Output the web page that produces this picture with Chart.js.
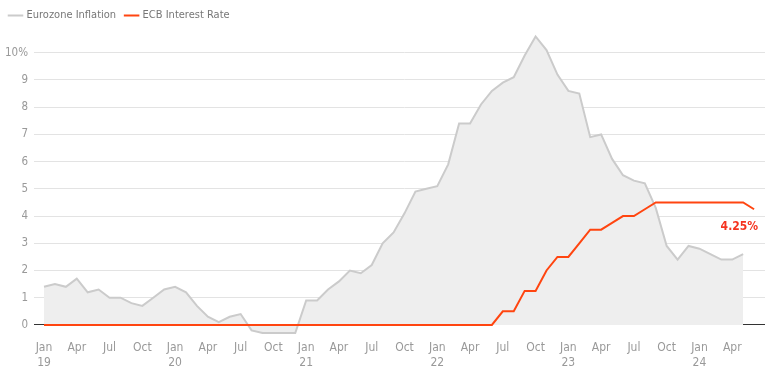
<!DOCTYPE html>
<html>
<head>
<meta charset="utf-8">
<script src="https://cdn.jsdelivr.net/npm/chart.js@4"></script>
<style>
  html, body { margin: 0; padding: 0; background: #fff; }
  #wrap { width: 780px; height: 378px; }
</style>
</head>
<body>
<div id="wrap"><canvas id="chart"></canvas></div>
<script>
const years = ['19', '20', '21', '22', '23', '24']
const monthNames = ['Jan', 'Feb', 'Mar', 'Apr', 'May', 'Jun', 'Jul', 'Aug', 'Sep', 'Oct', 'Nov', 'Dec']

// Jan 2019 .. May 2024, annual HICP %
const inflation = [
    1.4, 1.5, 1.4, 1.7, 1.2, 1.3, 1.0, 1.0, 0.8, 0.7, 1.0, 1.3,
    1.4, 1.2, 0.7, 0.3, 0.1, 0.3, 0.4, -0.2, -0.3, -0.3, -0.3, -0.3,
    0.9, 0.9, 1.3, 1.6, 2.0, 1.9, 2.2, 3.0, 3.4, 4.1, 4.9, 5.0,
    5.1, 5.9, 7.4, 7.4, 8.1, 8.6, 8.9, 9.1, 9.9, 10.6, 10.1, 9.2,
    8.6, 8.5, 6.9, 7.0, 6.1, 5.5, 5.3, 5.2, 4.3, 2.9, 2.4, 2.9,
    2.8, 2.6, 2.4, 2.4, 2.6,
]

// Jan 2019 .. Jun 2024, ECB main refinancing rate %
const ecbRate = [
    0, 0, 0, 0, 0, 0, 0, 0, 0, 0, 0, 0,
    0, 0, 0, 0, 0, 0, 0, 0, 0, 0, 0, 0,
    0, 0, 0, 0, 0, 0, 0, 0, 0, 0, 0, 0,
    0, 0, 0, 0, 0, 0, 0.5, 0.5, 1.25, 1.25, 2.0, 2.5,
    2.5, 3.0, 3.5, 3.5, 3.75, 4.0, 4.0, 4.25, 4.5, 4.5, 4.5, 4.5,
    4.5, 4.5, 4.5, 4.5, 4.5, 4.25,
]

const yTicks = [0, 1, 2, 3, 4, 5, 6, 7, 8, 9, 10]
const lastRateLabel = '4.25%'

// one spare month on the right so the grid runs past the last point
const labels = []
years.forEach(y => monthNames.forEach(m => labels.push(m + ' ' + y)))
labels.splice(67)

const fontFamily = "'Liberation Sans Narrow', 'DejaVu Sans Condensed', Roboto, sans-serif"

const endLabel = {
    id: 'endLabel',
    afterDatasetsDraw(chart) {
        const {ctx, scales} = chart
        const i = ecbRate.length - 1
        const x = scales.x.getPixelForValue(i)
        const y = scales.y.getPixelForValue(ecbRate[i])
        ctx.save()
        ctx.font = 'bold 12px ' + fontFamily
        ctx.fillStyle = '#f5331f'
        ctx.textAlign = 'right'
        ctx.textBaseline = 'middle'
        ctx.fillText(lastRateLabel, x + 4, y + 18)
        ctx.restore()
    }
}

const ctx = document.getElementById('chart').getContext('2d')
new Chart(ctx, {
    type: 'line',
    data: {
        labels: labels,
        datasets: [
            {
                label: 'Eurozone Inflation',
                data: inflation,
                borderColor: '#cbcbcb',
                backgroundColor: '#eeeeee',
                borderWidth: 2,
                fill: 'origin',
                pointRadius: 0,
                tension: 0,
                order: 2,
            },
            {
                label: 'ECB Interest Rate',
                data: ecbRate,
                borderColor: '#ff4510',
                backgroundColor: '#ff4510',
                borderWidth: 2,
                fill: false,
                pointRadius: 0,
                tension: 0,
                order: 1,
            },
        ],
    },
    options: {
        responsive: true,
        maintainAspectRatio: false,
        animation: false,
        layout: {padding: {left: 0, right: 15, top: 0, bottom: 3}},
        plugins: {
            tooltip: {enabled: false},
            legend: {
                align: 'start',
                labels: {
                    usePointStyle: true,
                    pointStyle: 'line',
                    boxWidth: 16,
                    padding: 10,
                    color: '#777',
                    font: {family: fontFamily, size: 11},
                    sort: (a, b) => a.datasetIndex - b.datasetIndex,
                },
            },
        },
        scales: {
            x: {
                grid: {display: false, drawTicks: false},
                border: {display: false},
                ticks: {
                    autoSkip: false,
                    maxRotation: 0,
                    color: '#999',
                    padding: 4,
                    font: {family: fontFamily, size: 12, lineHeight: 1.3},
                    callback: (val, index) => {
                        if (index % 3 !== 0 || index >= 66) return null
                        const [m, y] = labels[index].split(' ')
                        return m === 'Jan' ? [m, y] : m
                    },
                },
            },
            y: {
                min: -0.4,
                max: 10.8,
                afterBuildTicks: scale => {
                    scale.ticks = yTicks.map(v => ({value: v}))
                },
                afterFit: scale => {
                    scale.width = 44
                },
                border: {display: false},
                grid: {
                    tickLength: 10,
                    color: c => c.tick && c.tick.value === 0 ? '#333' : '#e3e3e3',
                    lineWidth: 1,
                },
                ticks: {
                    color: '#999',
                    padding: 6,
                    font: {family: fontFamily, size: 11.5},
                    callback: v => v === 10 ? '10%' : String(v),
                },
            },
        },
    },
    plugins: [endLabel],
})
</script>
</body>
</html>
